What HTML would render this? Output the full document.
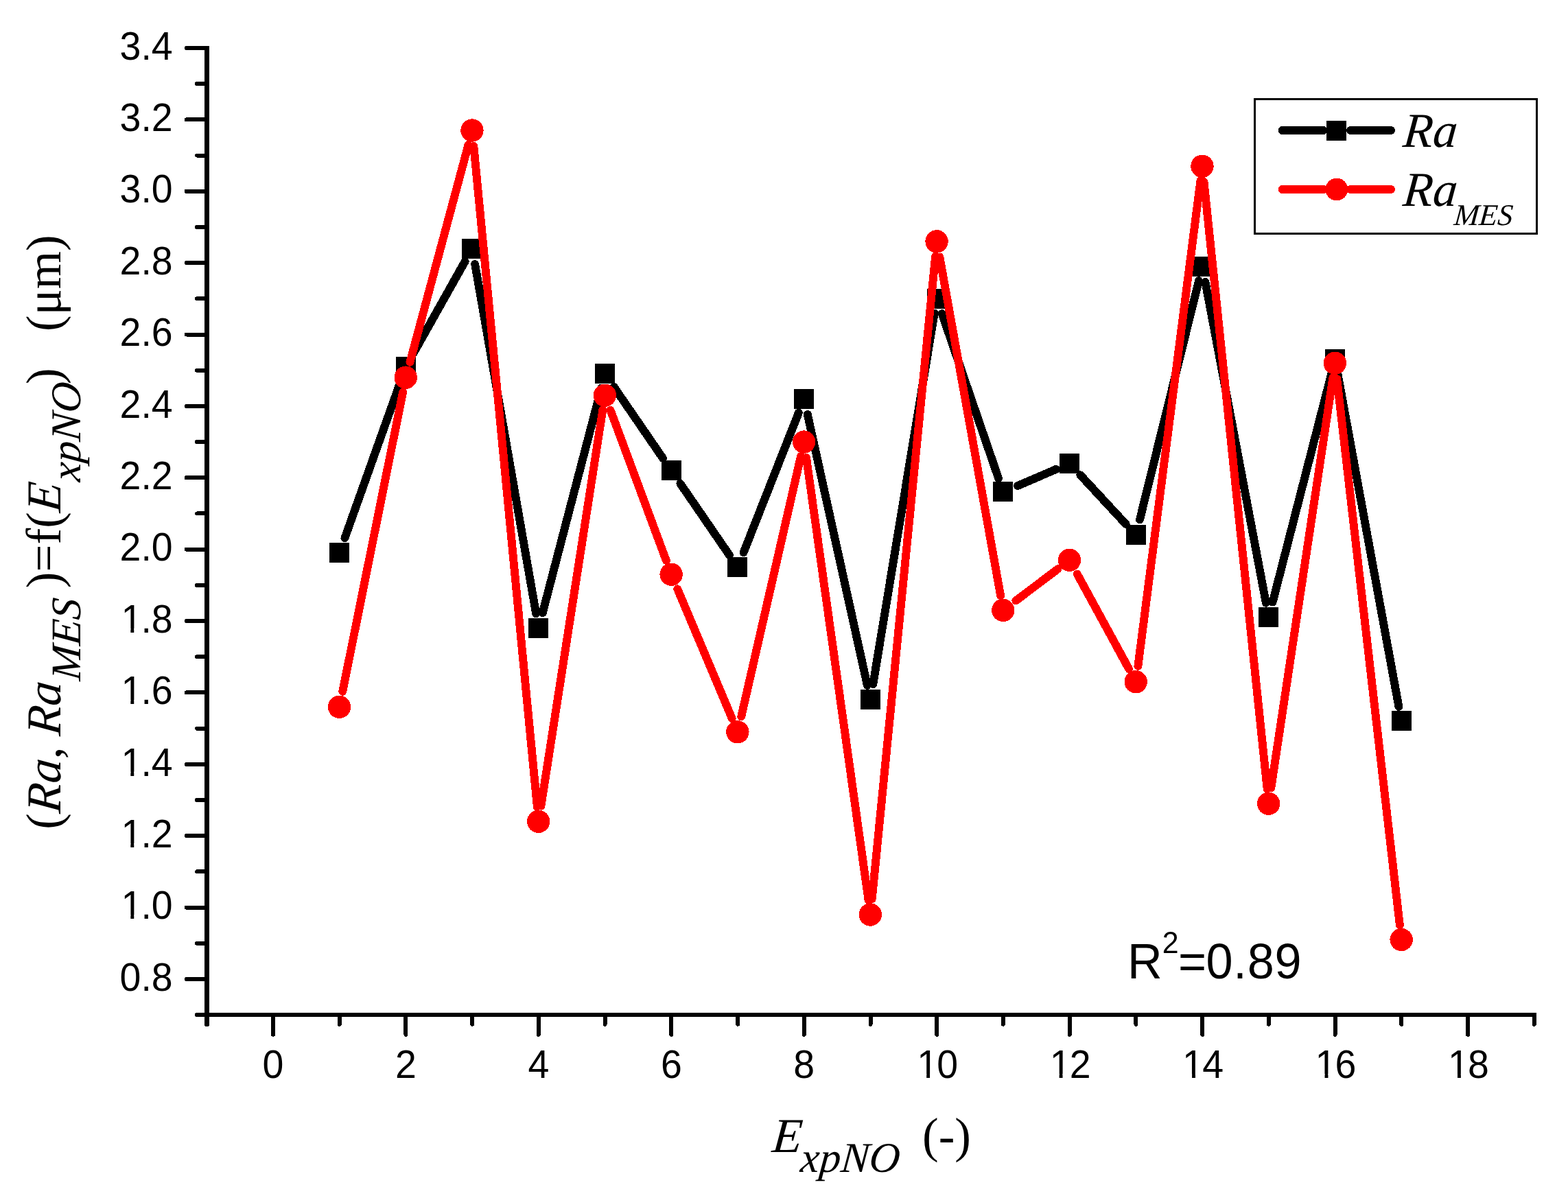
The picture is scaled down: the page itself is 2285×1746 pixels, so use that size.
<!DOCTYPE html>
<html lang="en"><head><meta charset="utf-8"><title>Ra and Ra MES versus experiment number</title>
<style>html,body{margin:0;padding:0;background:#fff}body{width:2285px;height:1746px;overflow:hidden}svg{display:block}.t{font-family:"Liberation Sans",Arial,Helvetica,sans-serif;fill:#000}.s{font-family:"Liberation Serif","Times New Roman",Times,serif;fill:#000}.i{font-style:italic}text{white-space:pre;font-kerning:none}</style></head><body>
<svg width="2285" height="1746" viewBox="0 0 2285 1746">
<rect width="2285" height="1746" fill="#fff"/>
<g id="axes" stroke="#000" stroke-width="6" stroke-linecap="round" fill="none" shape-rendering="crispEdges">
<line x1="301.50" y1="67" x2="301.50" y2="1479.00" stroke-width="7" stroke-linecap="butt"/>
<line x1="298.00" y1="1479.00" x2="2239" y2="1479.00" stroke-linecap="butt"/>
<line x1="287.00" y1="1479.00" x2="301.50" y2="1479.00"/>
<line x1="271.70" y1="1426.94" x2="301.50" y2="1426.94"/>
<line x1="287.00" y1="1374.75" x2="301.50" y2="1374.75"/>
<line x1="271.70" y1="1322.56" x2="301.50" y2="1322.56"/>
<line x1="287.00" y1="1270.37" x2="301.50" y2="1270.37"/>
<line x1="271.70" y1="1218.18" x2="301.50" y2="1218.18"/>
<line x1="287.00" y1="1165.99" x2="301.50" y2="1165.99"/>
<line x1="271.70" y1="1113.80" x2="301.50" y2="1113.80"/>
<line x1="287.00" y1="1061.61" x2="301.50" y2="1061.61"/>
<line x1="271.70" y1="1009.42" x2="301.50" y2="1009.42"/>
<line x1="287.00" y1="957.23" x2="301.50" y2="957.23"/>
<line x1="271.70" y1="905.04" x2="301.50" y2="905.04"/>
<line x1="287.00" y1="852.85" x2="301.50" y2="852.85"/>
<line x1="271.70" y1="800.66" x2="301.50" y2="800.66"/>
<line x1="287.00" y1="748.47" x2="301.50" y2="748.47"/>
<line x1="271.70" y1="696.28" x2="301.50" y2="696.28"/>
<line x1="287.00" y1="644.09" x2="301.50" y2="644.09"/>
<line x1="271.70" y1="591.90" x2="301.50" y2="591.90"/>
<line x1="287.00" y1="539.71" x2="301.50" y2="539.71"/>
<line x1="271.70" y1="487.52" x2="301.50" y2="487.52"/>
<line x1="287.00" y1="435.33" x2="301.50" y2="435.33"/>
<line x1="271.70" y1="383.14" x2="301.50" y2="383.14"/>
<line x1="287.00" y1="330.95" x2="301.50" y2="330.95"/>
<line x1="271.70" y1="278.76" x2="301.50" y2="278.76"/>
<line x1="287.00" y1="226.57" x2="301.50" y2="226.57"/>
<line x1="271.70" y1="174.38" x2="301.50" y2="174.38"/>
<line x1="287.00" y1="122.19" x2="301.50" y2="122.19"/>
<line x1="271.70" y1="70.00" x2="301.50" y2="70.00"/>
<line x1="301.50" y1="1479.00" x2="301.50" y2="1492.70" stroke-width="7"/>
<line x1="398.00" y1="1479.00" x2="398.00" y2="1507.80"/>
<line x1="494.73" y1="1479.00" x2="494.73" y2="1492.70"/>
<line x1="591.45" y1="1479.00" x2="591.45" y2="1507.80"/>
<line x1="688.17" y1="1479.00" x2="688.17" y2="1492.70"/>
<line x1="784.90" y1="1479.00" x2="784.90" y2="1507.80"/>
<line x1="881.62" y1="1479.00" x2="881.62" y2="1492.70"/>
<line x1="978.35" y1="1479.00" x2="978.35" y2="1507.80"/>
<line x1="1075.07" y1="1479.00" x2="1075.07" y2="1492.70"/>
<line x1="1171.80" y1="1479.00" x2="1171.80" y2="1507.80"/>
<line x1="1268.53" y1="1479.00" x2="1268.53" y2="1492.70"/>
<line x1="1365.25" y1="1479.00" x2="1365.25" y2="1507.80"/>
<line x1="1461.97" y1="1479.00" x2="1461.97" y2="1492.70"/>
<line x1="1558.70" y1="1479.00" x2="1558.70" y2="1507.80"/>
<line x1="1655.42" y1="1479.00" x2="1655.42" y2="1492.70"/>
<line x1="1752.15" y1="1479.00" x2="1752.15" y2="1507.80"/>
<line x1="1848.88" y1="1479.00" x2="1848.88" y2="1492.70"/>
<line x1="1945.60" y1="1479.00" x2="1945.60" y2="1507.80"/>
<line x1="2042.32" y1="1479.00" x2="2042.32" y2="1492.70"/>
<line x1="2139.05" y1="1479.00" x2="2139.05" y2="1507.80"/>
<line x1="2235.77" y1="1479.00" x2="2235.77" y2="1492.70"/>
</g>
<g id="ylabels" class="t" font-size="55.50">
<text transform="translate(174.55,1443.64) scale(1,1.045)">0.8</text>
<text transform="translate(174.55,1339.26) scale(1,1.045)" dx="1.84 -1.84 0">1.0</text>
<text transform="translate(174.55,1234.88) scale(1,1.045)" dx="1.84 -1.84 0">1.2</text>
<text transform="translate(174.55,1130.50) scale(1,1.045)" dx="1.84 -1.84 0">1.4</text>
<text transform="translate(174.55,1026.12) scale(1,1.045)" dx="1.84 -1.84 0">1.6</text>
<text transform="translate(174.55,921.74) scale(1,1.045)" dx="1.84 -1.84 0">1.8</text>
<text transform="translate(174.55,817.36) scale(1,1.045)">2.0</text>
<text transform="translate(174.55,712.98) scale(1,1.045)">2.2</text>
<text transform="translate(174.55,608.60) scale(1,1.045)">2.4</text>
<text transform="translate(174.55,504.22) scale(1,1.045)">2.6</text>
<text transform="translate(174.55,399.84) scale(1,1.045)">2.8</text>
<text transform="translate(174.55,295.46) scale(1,1.045)">3.0</text>
<text transform="translate(174.55,191.08) scale(1,1.045)">3.2</text>
<text transform="translate(174.55,86.70) scale(1,1.045)">3.4</text>
</g>
<g id="xlabels" class="t" font-size="55.50">
<text transform="translate(382.57,1570.80) scale(1,1.045)">0</text>
<text transform="translate(576.02,1570.80) scale(1,1.045)">2</text>
<text transform="translate(769.47,1570.80) scale(1,1.045)">4</text>
<text transform="translate(962.92,1570.80) scale(1,1.045)">6</text>
<text transform="translate(1156.37,1570.80) scale(1,1.045)">8</text>
<text transform="translate(1334.38,1570.80) scale(1,1.045)" dx="1.84 -1.84">10</text>
<text transform="translate(1527.83,1570.80) scale(1,1.045)" dx="1.84 -1.84">12</text>
<text transform="translate(1721.28,1570.80) scale(1,1.045)" dx="1.84 -1.84">14</text>
<text transform="translate(1914.73,1570.80) scale(1,1.045)" dx="1.84 -1.84">16</text>
<text transform="translate(2108.18,1570.80) scale(1,1.045)" dx="1.84 -1.84">18</text>
</g>
<g id="covers" fill="#fff">
<rect x="179.64" y="1333.43" width="10.70" height="7.33"/>
<rect x="195.25" y="1333.43" width="10.41" height="7.33"/>
<rect x="179.64" y="1229.05" width="10.70" height="7.33"/>
<rect x="195.25" y="1229.05" width="10.41" height="7.33"/>
<rect x="179.64" y="1124.67" width="10.70" height="7.33"/>
<rect x="195.25" y="1124.67" width="10.41" height="7.33"/>
<rect x="179.64" y="1020.29" width="10.70" height="7.33"/>
<rect x="195.25" y="1020.29" width="10.41" height="7.33"/>
<rect x="179.64" y="915.91" width="10.70" height="7.33"/>
<rect x="195.25" y="915.91" width="10.41" height="7.33"/>
<rect x="1339.48" y="1564.97" width="10.70" height="7.33"/>
<rect x="1355.09" y="1564.97" width="10.41" height="7.33"/>
<rect x="1532.93" y="1564.97" width="10.70" height="7.33"/>
<rect x="1548.54" y="1564.97" width="10.41" height="7.33"/>
<rect x="1726.38" y="1564.97" width="10.70" height="7.33"/>
<rect x="1741.99" y="1564.97" width="10.41" height="7.33"/>
<rect x="1919.83" y="1564.97" width="10.70" height="7.33"/>
<rect x="1935.44" y="1564.97" width="10.41" height="7.33"/>
<rect x="2113.28" y="1564.97" width="10.70" height="7.33"/>
<rect x="2128.89" y="1564.97" width="10.41" height="7.33"/>
</g>
<g id="ra-line" stroke="#000" stroke-width="11.9" stroke-linecap="round" fill="none" shape-rendering="crispEdges">
<line x1="502.45" y1="784.21" x2="584.23" y2="554.74"/>
<line x1="602.71" y1="514.44" x2="677.65" y2="381.01"/>
<line x1="692.14" y1="384.92" x2="781.20" y2="894.30"/>
<line x1="790.71" y1="893.22" x2="876.19" y2="565.73"/>
<line x1="894.64" y1="563.89" x2="966.18" y2="668.12"/>
<line x1="991.37" y1="704.80" x2="1062.91" y2="809.03"/>
<line x1="1083.51" y1="805.36" x2="1163.91" y2="601.46"/>
<line x1="1176.76" y1="603.92" x2="1263.89" y2="998.86"/>
<line x1="1272.28" y1="997.17" x2="1361.74" y2="456.54"/>
<line x1="1372.72" y1="457.08" x2="1455.00" y2="696.82"/>
<line x1="1483.09" y1="708.04" x2="1538.96" y2="683.92"/>
<line x1="1574.33" y1="692.27" x2="1640.81" y2="764.01"/>
<line x1="1660.94" y1="757.46" x2="1746.99" y2="409.23"/>
<line x1="1756.42" y1="410.96" x2="1844.88" y2="878.70"/>
<line x1="1854.61" y1="877.55" x2="1940.24" y2="544.87"/>
<line x1="1949.75" y1="546.68" x2="2038.44" y2="1030.03"/>
</g>
<g id="ra-pts" fill="#000" shape-rendering="crispEdges">
<rect x="480" y="791" width="29" height="29"/>
<rect x="577" y="520" width="29" height="29"/>
<rect x="673" y="348" width="29" height="29"/>
<rect x="770" y="901" width="29" height="29"/>
<rect x="867" y="530" width="29" height="29"/>
<rect x="964" y="671" width="29" height="29"/>
<rect x="1060" y="812" width="29" height="29"/>
<rect x="1157" y="567" width="29" height="29"/>
<rect x="1254" y="1005" width="29" height="29"/>
<rect x="1351" y="421" width="29" height="29"/>
<rect x="1447" y="702" width="29" height="29"/>
<rect x="1544" y="661" width="29" height="29"/>
<rect x="1641" y="765" width="29" height="29"/>
<rect x="1737" y="374" width="29" height="29"/>
<rect x="1834" y="885" width="29" height="29"/>
<rect x="1931" y="509" width="29" height="29"/>
<rect x="2028" y="1036" width="29" height="29"/>
</g>
<g id="rames-line" stroke="#f00" stroke-width="11.9" stroke-linecap="round" fill="none" shape-rendering="crispEdges">
<line x1="499.27" y1="1007.75" x2="587.20" y2="571.22"/>
<line x1="597.42" y1="527.94" x2="682.60" y2="210.80"/>
<line x1="690.37" y1="212.93" x2="782.84" y2="1175.90"/>
<line x1="788.44" y1="1174.58" x2="878.32" y2="597.49"/>
<line x1="889.62" y1="597.81" x2="970.88" y2="817.03"/>
<line x1="987.28" y1="858.39" x2="1066.73" y2="1047.01"/>
<line x1="1080.20" y1="1044.41" x2="1167.00" y2="665.05"/>
<line x1="1175.00" y1="666.87" x2="1265.54" y2="1311.71"/>
<line x1="1270.78" y1="1310.11" x2="1363.14" y2="373.22"/>
<line x1="1369.32" y1="374.46" x2="1458.17" y2="868.22"/>
<line x1="1480.33" y1="875.52" x2="1541.54" y2="829.28"/>
<line x1="1569.71" y1="836.51" x2="1645.13" y2="974.89"/>
<line x1="1658.36" y1="970.95" x2="1749.41" y2="263.55"/>
<line x1="1754.53" y1="265.10" x2="1846.65" y2="1149.82"/>
<line x1="1852.30" y1="1148.47" x2="1942.40" y2="550.53"/>
<line x1="1948.23" y1="552.12" x2="2039.87" y2="1348.17"/>
</g>
<g id="rames-pts" fill="#f00" shape-rendering="crispEdges">
<circle cx="494.53" cy="1030.30" r="16.70"/>
<circle cx="591.25" cy="550.15" r="16.70"/>
<circle cx="687.97" cy="190.04" r="16.70"/>
<circle cx="784.70" cy="1197.30" r="16.70"/>
<circle cx="881.42" cy="576.24" r="16.70"/>
<circle cx="978.15" cy="837.19" r="16.70"/>
<circle cx="1074.87" cy="1066.83" r="16.70"/>
<circle cx="1171.60" cy="644.09" r="16.70"/>
<circle cx="1268.33" cy="1333.00" r="16.70"/>
<circle cx="1365.05" cy="351.83" r="16.70"/>
<circle cx="1461.77" cy="889.38" r="16.70"/>
<circle cx="1558.50" cy="816.32" r="16.70"/>
<circle cx="1655.22" cy="993.76" r="16.70"/>
<circle cx="1751.95" cy="242.23" r="16.70"/>
<circle cx="1848.67" cy="1171.21" r="16.70"/>
<circle cx="1945.40" cy="529.27" r="16.70"/>
<circle cx="2042.12" cy="1369.53" r="16.70"/>
</g>
<g id="legend">
<rect x="1828.5" y="144.5" width="411" height="196" fill="#fff" stroke="#000" stroke-width="3" shape-rendering="crispEdges"/>
<g stroke-width="11.9" stroke-linecap="round" shape-rendering="crispEdges">
<line x1="1868.6" y1="190" x2="1928.6" y2="190" stroke="#000"/>
<line x1="1968.1" y1="190" x2="2027" y2="190" stroke="#000"/>
<line x1="1868.6" y1="276" x2="1928.6" y2="276" stroke="#f00"/>
<line x1="1968.1" y1="276" x2="2027" y2="276" stroke="#f00"/>
</g>
<rect x="1933" y="176" width="29" height="29" fill="#000" shape-rendering="crispEdges"/>
<circle cx="1947.9" cy="276" r="16.4" fill="#f00" shape-rendering="crispEdges"/>
<g transform="translate(2043.3,214)"><text class="s i" font-size="71" transform="translate(0.00,0.00) skewX(-5)">Ra</text></g>
<g transform="translate(2043.3,300)"><text class="s i" font-size="71" transform="translate(0.00,0.00) skewX(-5)">Ra</text><text class="s i" font-size="44" transform="translate(74.67,27.80) skewX(-5)">MES</text></g>
</g>
<text class="t" font-size="70.3" transform="translate(1642.9,1426.3) scale(1,1.035)">R<tspan font-size="43" dy="-36.2">2</tspan><tspan dy="36.2" dx="-0.5 -0.7 0.8 0.8 0.8">=0.89</tspan></text>
<g id="xtitle" transform="translate(1124.00,1678.9)"><text class="s i" font-size="71" transform="translate(0.00,0.00) skewX(-5)">E</text><text class="s i" font-size="62" transform="translate(41.37,28.60) skewX(-5)">xpNO</text><text class="s" font-size="71" x="184.52" y="0.00">  (-)</text></g>
<g id="ytitle" transform="translate(88.0,1208.80) rotate(-90)"><text class="s" font-size="71" x="0.00" y="0.00">(</text><text class="s i" font-size="71" transform="translate(22.64,0.00) skewX(-5)">Ra</text><text class="s" font-size="71" x="102.51" y="0.00">, </text><text class="s i" font-size="71" transform="translate(135.51,0.00) skewX(-5)">Ra</text><text class="s i" font-size="61.5" transform="translate(215.88,28.60) skewX(-5)">MES</text><text class="s" font-size="71" x="351.63" y="0.00">)=f(</text><text class="s i" font-size="71" transform="translate(461.10,0.00) skewX(-5)">E</text><text class="s i" font-size="62" transform="translate(505.97,28.60) skewX(-5)">xpNO</text><text class="s" font-size="71" x="648.92" y="0.00">)   (μm)</text></g>
</svg></body></html>
